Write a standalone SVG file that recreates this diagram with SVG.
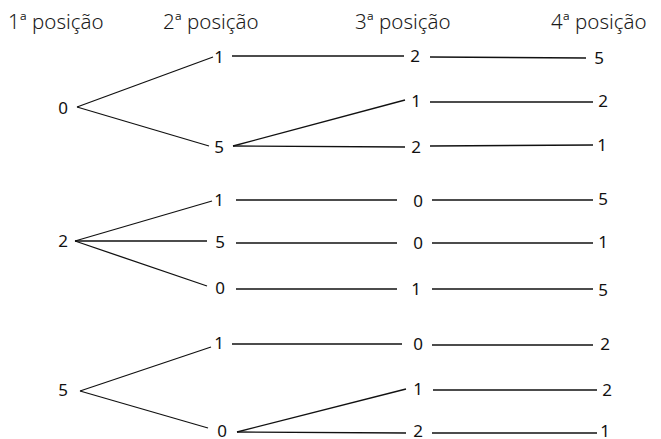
<svg xmlns="http://www.w3.org/2000/svg" width="661" height="439" viewBox="0 0 661 439">
<style>
.h{font-family:"Noto Sans","Open Sans",sans-serif;font-size:20.5px;font-weight:300;fill:#1a1a1a;}
.n{font-family:"Noto Sans","Open Sans",sans-serif;font-size:17px;fill:#111;text-anchor:middle;}
.c line{stroke:#111;stroke-width:1.3;fill:none;}
</style>
<rect width="661" height="439" fill="#fff"/>
<g id="headers">
<text class="h" x="8" y="29">1ª posição</text>
<text class="h" x="163" y="29">2ª posição</text>
<text class="h" x="355" y="29">3ª posição</text>
<text class="h" x="551" y="29">4ª posição</text>
</g>
<g class="c" id="connectors">
<line x1="77" y1="107" x2="213" y2="57"/>
<line x1="77" y1="107" x2="209" y2="146"/>
<line x1="232" y1="56" x2="404" y2="56"/>
<line x1="233" y1="146" x2="405" y2="100"/>
<line x1="233" y1="146" x2="405" y2="147"/>
<line x1="430" y1="57" x2="586" y2="58"/>
<line x1="430" y1="102" x2="593" y2="102"/>
<line x1="430" y1="146" x2="593" y2="145"/>
<line x1="75" y1="241" x2="212" y2="201"/>
<line x1="75" y1="241" x2="207" y2="241"/>
<line x1="75" y1="241" x2="207" y2="286"/>
<line x1="236" y1="200" x2="397" y2="200"/>
<line x1="236" y1="243" x2="397" y2="243"/>
<line x1="236" y1="289" x2="397" y2="289"/>
<line x1="432" y1="200" x2="593" y2="200"/>
<line x1="432" y1="243" x2="593" y2="243"/>
<line x1="432" y1="289" x2="593" y2="289"/>
<line x1="80" y1="391" x2="211" y2="347"/>
<line x1="80" y1="391" x2="208" y2="428"/>
<line x1="232" y1="344" x2="402" y2="344"/>
<line x1="237" y1="432" x2="406" y2="389"/>
<line x1="237" y1="432" x2="406" y2="433"/>
<line x1="432" y1="345" x2="593" y2="345"/>
<line x1="433" y1="390" x2="597" y2="390"/>
<line x1="432" y1="433" x2="597" y2="433"/>
</g>
<g id="n1_0"><text class="n" x="63" y="114">0</text></g>
<g id="n1_2"><text class="n" x="63" y="247">2</text></g>
<g id="n1_5"><text class="n" x="63" y="396">5</text></g>
<g id="a2_1"><text class="n" x="219" y="63">1</text></g>
<g id="a2_5"><text class="n" x="219" y="153">5</text></g>
<g id="a3_2"><text class="n" x="415" y="62">2</text></g>
<g id="a3_1"><text class="n" x="416" y="107">1</text></g>
<g id="a3_2b"><text class="n" x="416" y="153">2</text></g>
<g id="a4_5"><text class="n" x="599" y="64">5</text></g>
<g id="a4_2"><text class="n" x="603" y="107">2</text></g>
<g id="a4_1"><text class="n" x="602" y="151">1</text></g>
<g id="b2_1"><text class="n" x="219" y="206">1</text></g>
<g id="b2_5"><text class="n" x="220" y="248">5</text></g>
<g id="b2_0"><text class="n" x="220" y="294">0</text></g>
<g id="b3_0"><text class="n" x="418" y="207">0</text></g>
<g id="b3_0b"><text class="n" x="418" y="249">0</text></g>
<g id="b3_1"><text class="n" x="416" y="295">1</text></g>
<g id="b4_5"><text class="n" x="603" y="205">5</text></g>
<g id="b4_1"><text class="n" x="603" y="248">1</text></g>
<g id="b4_5b"><text class="n" x="603" y="296">5</text></g>
<g id="c2_1"><text class="n" x="219" y="349">1</text></g>
<g id="c2_0"><text class="n" x="222" y="437">0</text></g>
<g id="c3_0"><text class="n" x="418" y="350">0</text></g>
<g id="c3_1"><text class="n" x="418" y="395">1</text></g>
<g id="c3_2"><text class="n" x="418" y="437">2</text></g>
<g id="c4_2"><text class="n" x="605" y="350">2</text></g>
<g id="c4_2b"><text class="n" x="607" y="396">2</text></g>
<g id="c4_1"><text class="n" x="605" y="437">1</text></g>
</svg>
